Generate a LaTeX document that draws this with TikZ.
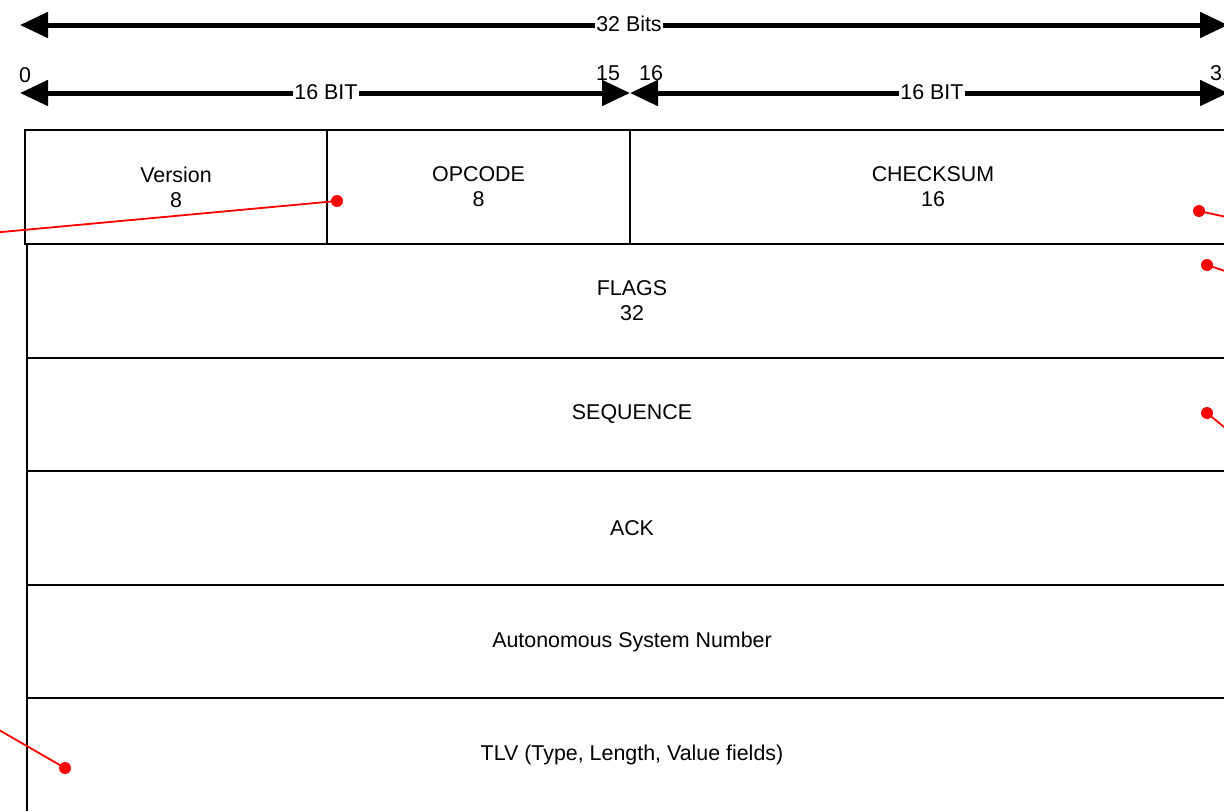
\documentclass[tikz,border=0pt]{standalone}
\usepackage{fontspec}
\setmainfont{Liberation Sans}
\usetikzlibrary{arrows.meta}
\tikzset{
  bigarrow/.style={line width=5pt, {Triangle[length=28pt,width=25pt]}-{Triangle[length=28pt,width=25pt]}},
  arrlab/.style={fill=white, inner sep=1pt},
  fieldbox/.style={draw, line width=1.6pt, align=center, minimum height=114pt, inner sep=0pt},
  numlab/.style={inner sep=0pt},
  reddot/.style={circle, fill=red, inner sep=0pt, minimum size=12pt},
  redline/.style={draw=red, line width=1.8pt},
}
\begin{document}
\begin{tikzpicture}[x=1pt,y=-1pt,font=\fontsize{21.4}{25}\selectfont]
\useasboundingbox (0,0) rectangle (1224,811);
\clip (0,0) rectangle (1224,811);
% dimension arrows
\coordinate (a0) at (20,25);
\coordinate (a1) at (1228,25);
\draw[bigarrow] (a0) -- (a1);
\node[arrlab] (l32) at (629,24) {32 Bits};
\coordinate (b0) at (20,93);
\coordinate (b1) at (630,93);
\coordinate (b2) at (1228,93);
\draw[bigarrow] (b0) -- (b1);
\draw[bigarrow] (b1) -- (b2);
\node[arrlab] (l16a) at (326,92) {16 BIT};
\node[arrlab] (l16b) at (932,92) {16 BIT};
\node[numlab] (n0) at (25,75) {0};
\node[numlab] (n15) at (608,73) {15};
\node[numlab] (n16) at (651,73) {16};
\node[numlab] (n31) at (1222,73) {31};
% header row
\node[fieldbox, minimum width=302pt] (ver) at (176,187) {Version\\8};
\node[fieldbox, minimum width=303pt] (opc) at (478.5,187) {OPCODE\\8};
\node[fieldbox, minimum width=606pt] (chk) at (933,187) {CHECKSUM\\16};
% rows
\node[fieldbox, minimum width=1210pt] (flags) at (632,301) {FLAGS\\32};
\node[fieldbox, minimum width=1210pt, minimum height=113pt] (seq) at (632,414.5) {SEQUENCE};
\node[fieldbox, minimum width=1210pt] (ack) at (632,528) {ACK};
\node[fieldbox, minimum width=1210pt, minimum height=113pt] (asn) at (632,641.5) {Autonomous System Number};
\node[fieldbox, minimum width=1210pt] (tlv) at (632,755) {TLV (Type, Length, Value fields)};
% red connectors
\node[reddot] (d1) at (337,201) {};
\coordinate (e1) at (-20,234);
\draw[redline] (d1.center) -- (e1);
\node[reddot] (d2) at (1199,211) {};
\coordinate (e2) at (1240,220);
\draw[redline] (d2.center) -- (e2);
\node[reddot] (d3) at (1207,265) {};
\coordinate (e3) at (1240,276);
\draw[redline] (d3.center) -- (e3);
\node[reddot] (d4) at (1207,413) {};
\coordinate (e4) at (1240,440);
\draw[redline] (d4.center) -- (e4);
\node[reddot] (d5) at (65,768) {};
\coordinate (e5) at (-20,719);
\draw[redline] (d5.center) -- (e5);
\end{tikzpicture}
\end{document}
